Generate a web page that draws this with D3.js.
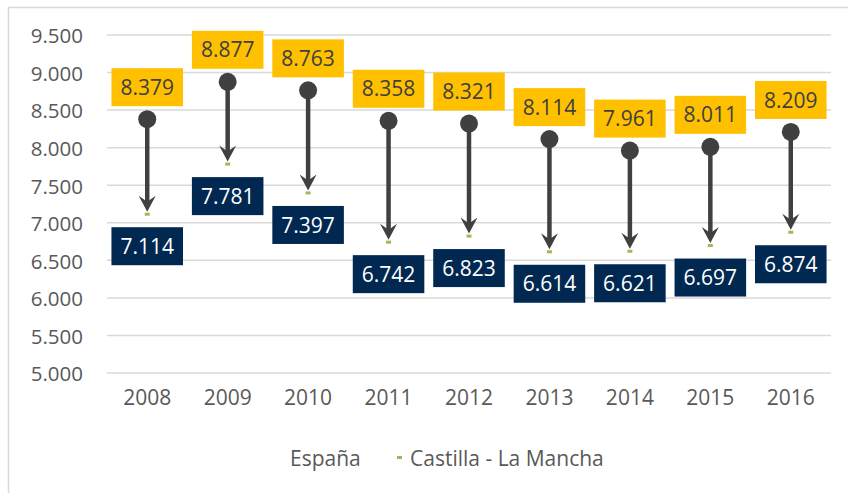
<!DOCTYPE html>
<html><head><meta charset="utf-8">
<script src="https://cdn.jsdelivr.net/npm/d3@7"></script>
<style>
html,body{margin:0;padding:0;background:#fff;}
svg{display:block;font-family:"Open Sans",sans-serif;}
</style></head>
<body>
<svg id="chart" width="848" height="493"></svg>
<script>
const years = ["2008","2009","2010","2011","2012","2013","2014","2015","2016"];
const espana = [8379, 8877, 8763, 8358, 8321, 8114, 7961, 8011, 8209];
const clm = [7114, 7781, 7397, 6742, 6823, 6614, 6621, 6697, 6874];
const yTicks = [5000, 5500, 6000, 6500, 7000, 7500, 8000, 8500, 9000, 9500];
const seriesNames = ["España", "Castilla - La Mancha"];

const loc = d3.formatLocale({decimal: ",", thousands: ".", grouping: [3], currency: ["", "€"]});
const fmt = loc.format(",d");

const svg = d3.select("#chart");
// outer border
svg.append("rect").attr("x", 8.5).attr("y", 7.5).attr("width", 900).attr("height", 600)
  .attr("fill", "none").attr("stroke", "#d9d9d9").attr("stroke-width", 1.5);

const x = d3.scaleBand().domain(years).range([107, 831]).padding(0);
const y = d3.scaleLinear().domain([5000, 9500]).range([373, 35]);
const cx = d => x(d) + x.bandwidth() / 2;

// grid
svg.append("g").selectAll("line").data(yTicks).join("line")
  .attr("x1", 107).attr("x2", 831)
  .attr("y1", d => y(d)).attr("y2", d => y(d))
  .attr("stroke", "#d9d9d9").attr("stroke-width", 1.5);

// y axis labels
const yAxis = d3.axisLeft(y).tickValues(yTicks).tickFormat(fmt).tickSize(0).tickPadding(0);
const gy = svg.append("g").attr("transform", "translate(83,0)").call(yAxis);
gy.select(".domain").remove();
gy.selectAll("text").attr("fill", "#595959").style("font-size", "20.5px").style("font-family", "'Open Sans',sans-serif").attr("dy", "0.38em");

// x axis labels
const xAxis = d3.axisBottom(x).tickSize(0).tickPadding(0);
const gx = svg.append("g").attr("transform", "translate(0,390)").call(xAxis);
gx.select(".domain").remove();
gx.selectAll("text").attr("fill", "#595959").style("font-size", "21px").style("font-family", "'Open Sans',sans-serif").attr("dy", "0.72em");

// arrows
const g = svg.append("g");
years.forEach((yr, i) => {
  const xc = cx(yr);
  const y0 = y(espana[i]);
  const y1 = y(clm[i]) - 2.5;
  g.append("line").attr("x1", xc).attr("x2", xc).attr("y1", y0).attr("y2", y1 - 8)
    .attr("stroke", "#404040").attr("stroke-width", 4.5);
  g.append("path")
    .attr("d", `M${xc},${y1} L${xc - 8.5},${y1 - 16} L${xc},${y1 - 10} L${xc + 8.5},${y1 - 16} Z`)
    .attr("fill", "#404040");
  g.append("circle").attr("cx", xc).attr("cy", y0).attr("r", 9).attr("fill", "#404040");
  g.append("rect").attr("x", xc - 2.5).attr("y", y(clm[i]) - 1.5).attr("width", 5).attr("height", 3)
    .attr("fill", "#9bbb59");
});

// labels
function label(xc, yc, text, fill, color) {
  const lg = svg.append("g");
  const r = lg.append("rect").attr("fill", fill);
  const t = lg.append("text").attr("x", xc).attr("y", yc).attr("text-anchor", "middle")
    .attr("dy", "0.36em").attr("fill", color).style("font-size", "21px").text(text);
  const w = t.node().getComputedTextLength() + 18;
  r.attr("x", xc - w / 2).attr("y", yc - 19).attr("width", w).attr("height", 38);
}
years.forEach((yr, i) => {
  label(cx(yr), y(espana[i]) - 32, fmt(espana[i]), "#ffc000", "#404040");
  label(cx(yr), y(clm[i]) + 32, fmt(clm[i]), "#012850", "#ffffff");
});

// legend
const leg = svg.append("g");
leg.append("text").attr("x", 290).attr("y", 458).attr("dy", "0.36em").attr("fill", "#595959")
  .style("font-size", "21px").text(seriesNames[0]);
leg.append("rect").attr("x", 397).attr("y", 456).attr("width", 5).attr("height", 3).attr("fill", "#9bbb59");
leg.append("text").attr("x", 410).attr("y", 458).attr("dy", "0.36em").attr("fill", "#595959")
  .style("font-size", "21px").text(seriesNames[1]);
</script>
</body></html>
